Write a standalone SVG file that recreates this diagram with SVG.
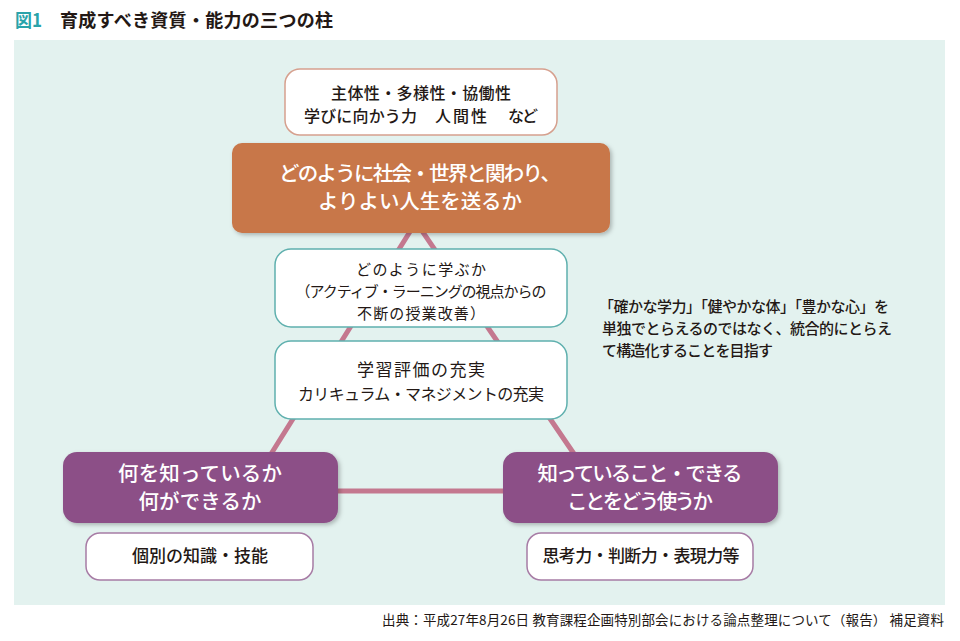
<svg xmlns="http://www.w3.org/2000/svg" width="960" height="641" viewBox="0 0 960 641">
<defs>
<style>
text{font-family:"Noto Sans CJK JP","Noto Sans",sans-serif;}
.dark{fill:#231815;}
.wt{fill:#ffffff;}
.b{font-weight:bold;}
.m{font-weight:500;}
.c{text-anchor:middle;}
.conn{fill:none;stroke:#c4788f;stroke-width:5;stroke-linejoin:miter;}
.wb1{fill:#ffffff;stroke:#d6a08e;stroke-width:1.5;}
.wb2{fill:#ffffff;stroke:#5fb0ae;stroke-width:1.5;}
.wb3{fill:#ffffff;stroke:#a77ca5;stroke-width:1.5;}
.pur{fill:#8c5087;}
.org{fill:#c8774a;}
</style>
<filter id="sh" x="-10%" y="-10%" width="125%" height="135%">
<feDropShadow dx="2" dy="2" stdDeviation="2" flood-color="#000000" flood-opacity="0.25"/>
</filter>
</defs>
<rect x="0" y="0" width="960" height="641" fill="#ffffff"/>
<g id="title">
<text x="15" y="27" font-size="18" class="b" fill="#2aa3aa" textLength="27" lengthAdjust="spacingAndGlyphs">図1</text>
<text x="60" y="27" font-size="18" class="b dark" textLength="273" lengthAdjust="spacing">育成すべき資質・能力の三つの柱</text>
</g>
<rect id="panel" x="14" y="40" width="931" height="565" fill="#e3f2ef"/>
<g id="connectors">
<path class="conn" d="M261,470 L416,222 L585,470"/>
<path class="conn" d="M330,491 L510,491"/>
</g>
<g id="node-top">
<rect class="wb1" x="285" y="69" width="272" height="66" rx="15"/>
<text x="421" y="99" font-size="16" class="c dark m" textLength="180" lengthAdjust="spacing">主体性・多様性・協働性</text>
<text y="122" font-size="16" class="dark m"><tspan x="304" textLength="113" lengthAdjust="spacing">学びに向かう力</tspan><tspan x="435" textLength="52" lengthAdjust="spacing">人間性</tspan><tspan x="508" textLength="30" lengthAdjust="spacing">など</tspan></text>
</g>
<g id="node-orange">
<rect class="org" x="232" y="143" width="378" height="90" rx="10" filter="url(#sh)"/>
<text x="420" y="181" font-size="20.5" class="c wt m" textLength="282" lengthAdjust="spacing">どのように社会・世界と関わり、</text>
<text x="420" y="209" font-size="20.5" class="c wt m" textLength="204" lengthAdjust="spacing">よりよい人生を送るか</text>
</g>
<g id="node-learn">
<rect class="wb2" x="275" y="249" width="292" height="78" rx="16"/>
<text x="421" y="275" font-size="15" class="c dark" textLength="130" lengthAdjust="spacing">どのように学ぶか</text>
<text x="421" y="297" font-size="15" class="c dark" textLength="251" lengthAdjust="spacing">（アクティブ・ラーニングの視点からの</text>
<text x="421" y="319" font-size="15" class="c dark" textLength="128" lengthAdjust="spacing">不断の授業改善）</text>
</g>
<g id="node-eval">
<rect class="wb2" x="275" y="341" width="292" height="78" rx="16"/>
<text x="421" y="376" font-size="17" class="c dark" textLength="128" lengthAdjust="spacing">学習評価の充実</text>
<text x="421" y="400" font-size="16" class="c dark" textLength="246" lengthAdjust="spacing">カリキュラム・マネジメントの充実</text>
</g>
<g id="note">
<text x="599" y="312" font-size="15" class="dark m" textLength="290" lengthAdjust="spacing">「確かな学力」「健やかな体」「豊かな心」を</text>
<text x="602" y="334" font-size="15" class="dark m" textLength="290" lengthAdjust="spacing">単独でとらえるのではなく、統合的にとらえ</text>
<text x="602" y="356" font-size="15" class="dark m" textLength="171" lengthAdjust="spacing">て構造化することを目指す</text>
</g>
<g id="node-knowledge">
<rect class="pur" x="63" y="452" width="275" height="71" rx="14" filter="url(#sh)"/>
<text x="200" y="481" font-size="20.5" class="c wt m" textLength="164" lengthAdjust="spacing">何を知っているか</text>
<text x="200" y="509" font-size="20.5" class="c wt m" textLength="123" lengthAdjust="spacing">何ができるか</text>
</g>
<g id="node-skill">
<rect class="wb3" x="86" y="533" width="227" height="47" rx="14"/>
<text x="200" y="562" font-size="17" class="c dark m" textLength="136" lengthAdjust="spacing">個別の知識・技能</text>
</g>
<g id="node-use">
<rect class="pur" x="503" y="452" width="275" height="71" rx="14" filter="url(#sh)"/>
<text x="640" y="481" font-size="20.5" class="c wt m" textLength="205" lengthAdjust="spacing">知っていること・できる</text>
<text x="640" y="509" font-size="20.5" class="c wt m" textLength="146" lengthAdjust="spacing">ことをどう使うか</text>
</g>
<g id="node-think">
<rect class="wb3" x="527" y="533" width="226" height="47" rx="14"/>
<text x="641" y="562" font-size="17" class="c dark m" textLength="197" lengthAdjust="spacing">思考力・判断力・表現力等</text>
</g>
<g id="source">
<text x="944" y="625" font-size="13.5" class="dark" text-anchor="end" textLength="562" lengthAdjust="spacing">出典：平成27年8月26日 教育課程企画特別部会における論点整理について（報告） 補足資料</text>
</g>
</svg>
